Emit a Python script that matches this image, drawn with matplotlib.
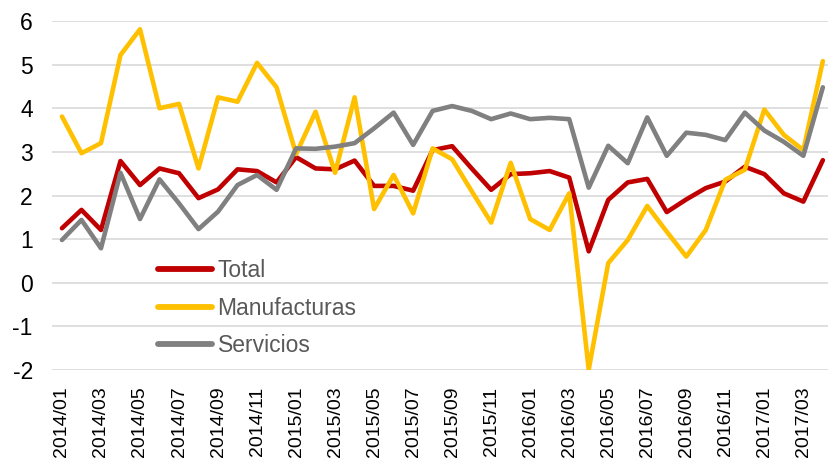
import matplotlib
matplotlib.use("Agg")
import matplotlib.pyplot as plt
import numpy as np

plt.rcParams['font.family'] = ['Liberation Sans', 'DejaVu Sans']

months = [f"{y}/{m:02d}" for y in range(2014, 2018) for m in range(1, 13)][:40]

total = [1.25, 1.67, 1.21, 2.79, 2.24, 2.62, 2.51, 1.94, 2.14, 2.60,
         2.56, 2.30, 2.88, 2.62, 2.60, 2.80, 2.22, 2.22, 2.11, 3.04,
         3.13, 2.62, 2.13, 2.49, 2.51, 2.56, 2.41, 0.72, 1.90, 2.30,
         2.38, 1.62, 1.91, 2.17, 2.32, 2.66, 2.49, 2.05, 1.86, 2.81]

manufacturas = [3.81, 2.97, 3.20, 5.22, 5.81, 4.00, 4.10, 2.62, 4.25, 4.15,
                5.04, 4.48, 2.95, 3.92, 2.52, 4.25, 1.69, 2.47, 1.59, 3.08,
                2.83, 2.10, 1.38, 2.75, 1.46, 1.21, 2.05, -1.99, 0.45, 0.98,
                1.76, 1.17, 0.60, 1.21, 2.36, 2.59, 3.97, 3.39, 3.04, 5.08]

servicios = [0.98, 1.44, 0.79, 2.52, 1.46, 2.37, 1.82, 1.23, 1.63, 2.24,
             2.47, 2.13, 3.08, 3.07, 3.12, 3.20, 3.54, 3.90, 3.16, 3.94,
             4.05, 3.94, 3.75, 3.88, 3.75, 3.78, 3.75, 2.18, 3.14, 2.74,
             3.79, 2.91, 3.44, 3.39, 3.27, 3.90, 3.49, 3.23, 2.91, 4.48]

series_names = ["Total", "Manufacturas", "Servicios"]
colors = ["#C00000", "#FFC000", "#808080"]

W, H = 829, 461
fig = plt.figure(figsize=(W / 100, H / 100), dpi=100)
left_px, right_px = 52.2, 832.6
top_px, bot_px = 21, 370
ax = fig.add_axes([left_px / W, 1 - bot_px / H, (right_px - left_px) / W, (bot_px - top_px) / H])

x = np.arange(len(months))
for vals, name, c in zip([total, manufacturas, servicios], series_names, colors):
    ax.plot(x, vals, color=c, lw=3.3, label=name, solid_capstyle='round', solid_joinstyle='round', zorder=3)

ax.set_xlim(-0.5, len(months) - 0.5)
ax.set_ylim(-2, 6)
ax.set_yticks(range(-2, 7))
ax.set_yticklabels([str(v) for v in range(-2, 7)])
ax.set_xticks(x[::2])
ax.set_xticklabels(months[::2], rotation=90)
ax.grid(axis='y', color='#D9D9D9', lw=1.2, zorder=0)
for s in ax.spines.values():
    s.set_visible(False)
ax.tick_params(axis='y', length=0, pad=14, labelsize=16.5, labelcolor='#000000')
ax.tick_params(axis='x', length=0, pad=12, labelsize=14, labelcolor='#000000')

leg = ax.legend(loc='upper left', bbox_to_anchor=(158 / W, 1 - 259 / H), bbox_transform=fig.transFigure,
                frameon=False, fontsize=16.5, handlelength=2.35, handletextpad=0.25,
                labelspacing=0.64, borderaxespad=0, borderpad=0)
for t in leg.get_texts():
    t.set_color('#595959')
for l in leg.get_lines():
    l.set_linewidth(4.2)

fig.savefig("out.png", dpi=100)
